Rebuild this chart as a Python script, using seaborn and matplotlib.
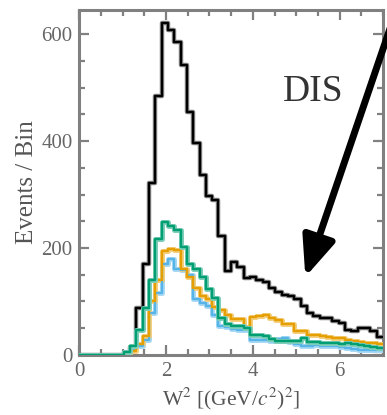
import numpy as np
import pandas as pd
import matplotlib
matplotlib.use("Agg")
import matplotlib.pyplot as plt
import seaborn as sns

# ---- data (events per bin) ----
bin_edges = np.linspace(0.0, 7.0, 49)
black_counts = [0, 0, 0, 0, 0, 0, 0,
                3, 15, 88, 170, 321, 485, 620, 608, 585, 542,
                454, 396, 336, 298, 290, 222, 157, 173, 165, 143,
                146, 140, 137, 125, 118, 113, 110, 105, 91, 79,
                72, 69, 69, 64, 59, 47, 44, 51, 51, 44,
                34]
green_counts = [0, 0, 0, 0, 0, 0, 0,
                6, 16, 47, 88, 141, 217, 248, 242, 234, 202,
                170, 160, 145, 123, 106, 70, 57, 55, 54, 50,
                37, 37, 36, 30, 27, 27, 27, 26, 32, 25,
                24, 23, 22, 22, 21, 22, 20, 19, 16, 15,
                14]
orange_counts = [0, 0, 0, 0, 0, 0, 0,
                 3, 8, 20, 36, 100, 140, 195, 198, 196, 160,
                 146, 125, 110, 104, 90, 85, 75, 68, 68, 53,
                 71, 72, 75, 70, 66, 58, 57, 44, 44, 38,
                 37, 35, 34, 32, 31, 28, 26, 24, 22, 22,
                 20]
blue_counts = [0, 0, 0, 0, 0, 0, 0,
               5, 12, 17, 28, 79, 116, 170, 179, 160, 159,
               150, 104, 98, 92, 75, 55, 53, 48, 47, 46,
               28, 28, 28, 26, 30, 32, 25, 20, 17, 16,
               18, 17, 16, 16, 15, 14, 12, 10, 10, 9,
               9]
x_ticks = [0, 2, 4, 6]
y_ticks = [0, 200, 400, 600]

sns.set_theme(style="ticks")
plt.rcParams["font.family"] = ["Liberation Serif", "DejaVu Serif"]
plt.rcParams["mathtext.fontset"] = "stix"

fig = plt.figure(figsize=(3.87, 4.15), dpi=100)
ax = fig.add_axes([0.205, 0.1446, 0.7845, 0.8314])


def step(counts, color, lw, z):
    y = list(counts) + [counts[-1]]
    sns.lineplot(x=bin_edges, y=y, drawstyle="steps-post", estimator=None,
                 sort=False, color=color, linewidth=lw, ax=ax, zorder=z)


# black (with gray shadow)
step(black_counts, "#808080", 3.2, 2)
step(black_counts, "#000000", 1.6, 3)
# coloured series with light halos
step(blue_counts, "#AAD9F4", 3.6, 4)
step(blue_counts, "#56B4E9", 1.7, 5)
step(orange_counts, "#F3CF7F", 3.6, 4)
step(orange_counts, "#E69F00", 1.7, 5)
step(green_counts, "#7FCEB9", 3.6, 5.5)
step(green_counts, "#009E73", 1.7, 6)

ax.set_xlim(0, 7.0)
ax.set_ylim(0, 645)
ax.set_xticks(x_ticks)
ax.set_yticks(y_ticks)
ax.set_xticks(np.arange(0, 7.01, 0.5), minor=True)
ax.set_yticks(np.arange(0, 645, 50), minor=True)

for s in ax.spines.values():
    s.set_color("#808080")
    s.set_linewidth(2.2)
ax.tick_params(which="both", direction="in", top=True, right=True,
               color="#808080", width=1.6, labelcolor="#666666", labelsize=15)
ax.tick_params(which="major", length=7)
ax.tick_params(which="minor", length=4.5)
ax.tick_params(axis="x", pad=5)
ax.tick_params(axis="y", pad=5)

ax.set_xlabel("W$^2$ [(GeV/$c^2$)$^2$]", fontsize=15.5, color="#555555")
ax.set_ylabel("Events / Bin", fontsize=18, color="#555555")
ax.xaxis.set_label_coords(0.5, -0.088)
ax.yaxis.set_label_coords(-0.135, 0.5)

ax.text(0.77, 0.762, "DIS", transform=ax.transAxes, ha="center", va="center",
        fontsize=27, color="#333333")

ax.annotate("", xy=(5.19, 141), xytext=(7.33, 650),
            arrowprops=dict(arrowstyle="-|>,head_length=1.2,head_width=0.5",
                            mutation_scale=20, lw=5, color="black"),
            annotation_clip=False, zorder=10)

fig.savefig("out.png", dpi=100)
